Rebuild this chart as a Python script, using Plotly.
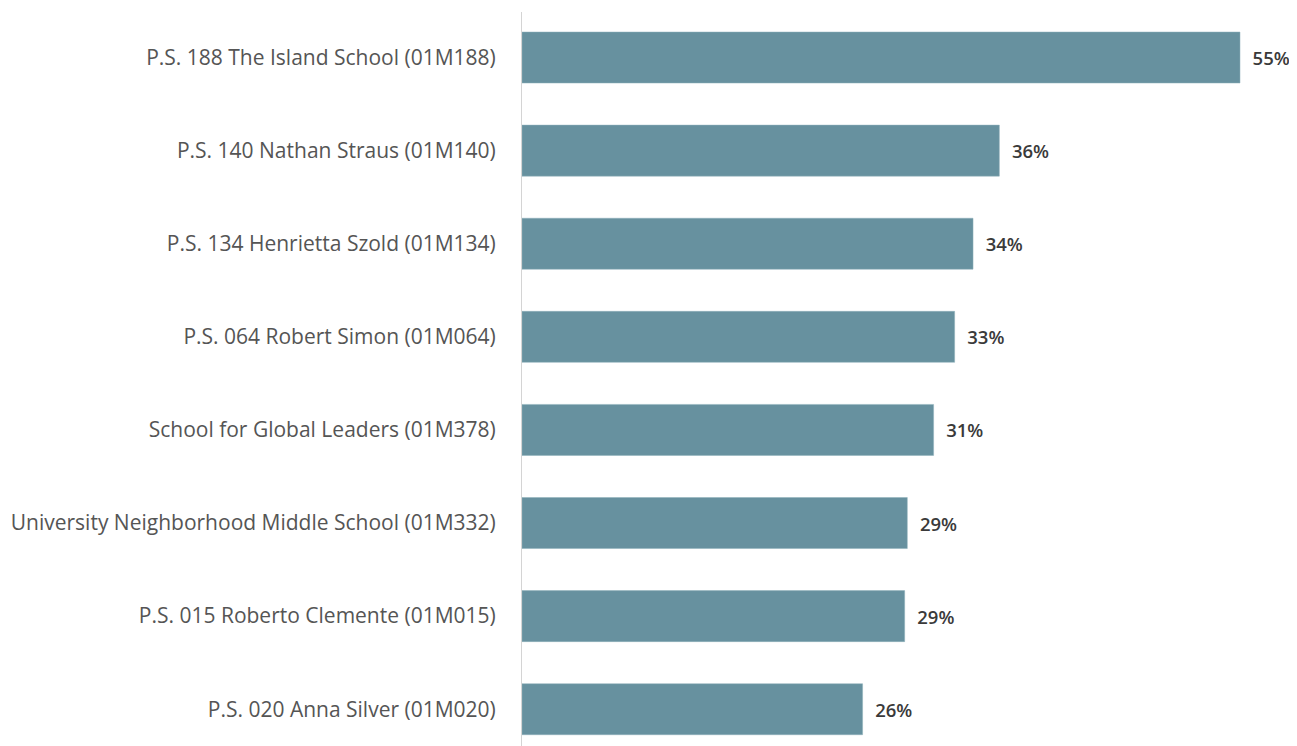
import plotly.graph_objects as go

schools = [
    "P.S. 188 The Island School (01M188)",
    "P.S. 140 Nathan Straus (01M140)",
    "P.S. 134 Henrietta Szold (01M134)",
    "P.S. 064 Robert Simon (01M064)",
    "School for Global Leaders (01M378)",
    "University Neighborhood Middle School (01M332)",
    "P.S. 015 Roberto Clemente (01M015)",
    "P.S. 020 Anna Silver (01M020)",
]
values = [54.6, 36.3, 34.3, 32.9, 31.3, 29.3, 29.1, 25.9]
labels = ["55%", "36%", "34%", "33%", "31%", "29%", "29%", "26%"]

fig = go.Figure(go.Bar(
    x=values,
    y=schools,
    orientation="h",
    marker=dict(color="#67919f", line=dict(color="#8fb0bb", width=0.5)),
    text=["\u00a0\u00a0" + t for t in labels],
    textposition="outside",
    cliponaxis=False,
    textfont=dict(family="Open Sans", size=18.5, color="#3a3a3a", weight=600),
    hoverinfo="skip",
))

fig.update_layout(
    width=1289, height=738,
    margin=dict(l=514, r=0, t=4, b=0),
    paper_bgcolor="white", plot_bgcolor="white",
    bargap=0.452,
    showlegend=False,
    font=dict(family="Open Sans", size=21, color="#555555"),
    xaxis=dict(range=[0, 775 / 13.15], showgrid=False, zeroline=False,
               showticklabels=False, showline=False, fixedrange=True),
    yaxis=dict(type="category", range=[7.395, -0.489], autorange=False,
               showgrid=False, zeroline=False, showline=True,
               linecolor="#d4d4d4", linewidth=1, ticks="",
               ticklabelstandoff=21,
               tickfont=dict(family="Open Sans", size=21, color="#555555")),
)

fig.write_html("out.html")
